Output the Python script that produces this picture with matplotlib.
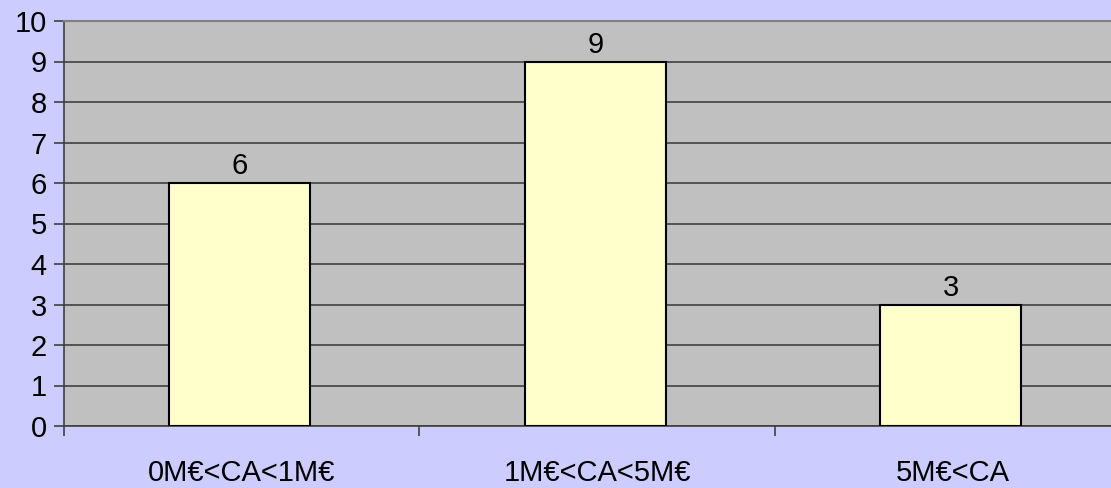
import matplotlib
matplotlib.use("Agg")
import matplotlib.pyplot as plt
import numpy as np

categories = ["0M€<CA<1M€", "1M€<CA<5M€", "5M€<CA"]
values = [6, 9, 3]
yticks = list(range(0, 11))

plt.rcParams['font.family'] = ['Liberation Sans', 'DejaVu Sans']

fig = plt.figure(figsize=(11.11, 4.88), dpi=100)
fig.patch.set_facecolor('#CCCCFF')
W, H = 1111, 488
ax = fig.add_axes([63.5 / W, 1 - 426 / H, 1067 / W, (426 - 21) / H])
ax.set_facecolor('#C0C0C0')

x = np.arange(len(categories))
ax.bar(x - 0.005, values, width=0.396, color='#FFFFCC', edgecolor='black', linewidth=1.5, zorder=3)
for xi, v in zip(x, values):
    ax.annotate(str(v), (xi - 0.005, v), xytext=(0, 2), textcoords='offset points',
                ha='center', va='bottom', fontsize=21, zorder=4)

ax.set_xlim(-0.5, len(categories) - 0.5)
ax.set_ylim(0, 10)
ax.set_yticks(yticks)
ax.set_yticklabels([str(t) for t in yticks], fontsize=21)
ax.yaxis.grid(True, color='#404040', linewidth=1.2, zorder=1)
ax.set_axisbelow(True)

ax.set_xticks(np.arange(-0.5, len(categories) - 0.5 + 0.01, 1.0))
ax.set_xticklabels([])
ax.set_xticks(x, minor=True)
ax.set_xticklabels(categories, minor=True, fontsize=21)
ax.tick_params(axis='x', which='minor', length=0, pad=24)
ax.tick_params(axis='x', which='major', length=7, color='#404040', width=1.2)
ax.tick_params(axis='y', length=7, color='#404040', width=1.2, pad=5)

for s in ['left', 'bottom']:
    ax.spines[s].set_color('#404040')
    ax.spines[s].set_linewidth(1.2)
ax.spines['top'].set_color('#808080')
ax.spines['top'].set_linewidth(1.5)
ax.spines['right'].set_visible(False)

fig.savefig('out.png', dpi=100, facecolor=fig.get_facecolor())
